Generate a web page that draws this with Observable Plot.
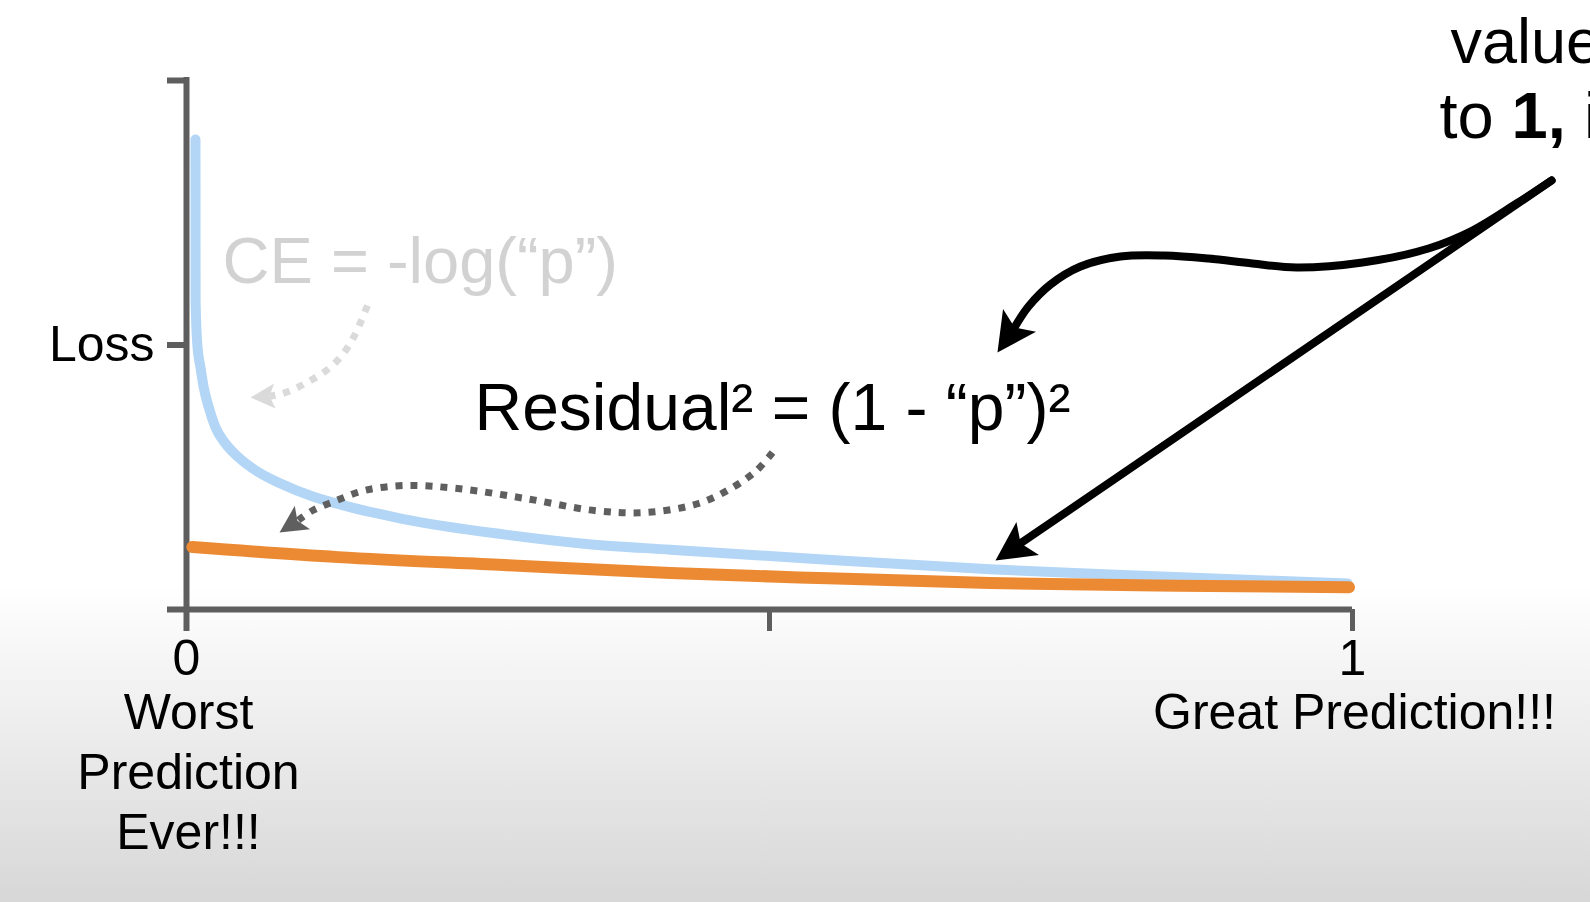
<!DOCTYPE html>
<html>
<head>
<meta charset="utf-8">
<script src="https://cdn.jsdelivr.net/npm/d3@7"></script>
<script src="https://cdn.jsdelivr.net/npm/@observablehq/plot@0.6"></script>
<style>
html, body { margin: 0; padding: 0; width: 1590px; height: 902px; overflow: hidden;
  background: linear-gradient(to bottom, #ffffff 0px, #ffffff 585px, #d7d7d7 902px); }
#chart svg { display: block; }
</style>
</head>
<body>
<div id="chart"></div>
<script>
// ---- data ----
// predicted probability "p" and cross-entropy loss (blue curve)
const pCE    = [0.0077, 0.0078, 0.0092, 0.0120, 0.0148, 0.0191, 0.0249, 0.0334, 0.0449, 0.0606, 0.0806, 0.1089, 0.1378, 0.1635, 0.186, 0.272, 0.343, 0.415, 0.536, 0.689, 0.842, 0.996];
const lossCE = [8.885, 5.84, 5.03, 4.575, 4.197, 3.819, 3.440, 3.138, 2.870, 2.610, 2.380, 2.130, 1.950, 1.815, 1.710, 1.42, 1.24, 1.13, 0.96, 0.76, 0.62, 0.49];
// predicted probability "p" and squared residual loss (orange curve)
const pSq    = [0.005, 0.13, 0.272, 0.415, 0.55, 0.689, 0.85, 0.997];
const lossSq = [1.18, 0.99, 0.84, 0.69, 0.59, 0.50, 0.45, 0.42];

const xTicks = [0, 0.5, 1];
const xTickLabels = ["0", "", "1"];
const yTicks = [5, 10];
const yTickLabels = ["Loss", ""];
const endLabels = ["Worst\nPrediction\nEver!!!", "Great Prediction!!!"];
const endLabelAt = [0, 1];

// ---- annotations (in data units) ----
const ceArrowPath = [[0.1552,5.747],[0.1492,5.425],[0.1432,5.142],[0.1364,4.896],[0.1278,4.669],[0.1175,4.480],[0.1063,4.329],[0.0952,4.197],[0.0823,4.083],[0.0714,4.030]];
const ceArrowHead = {x: 0.0549, y: 4.008, angle: 266.3};
const resArrowPath = [[0.5026,2.968],[0.4889,2.628],[0.4683,2.306],[0.4391,2.004],[0.3945,1.834],[0.3499,1.871],[0.2907,2.098],[0.2324,2.287],[0.1878,2.344],[0.1527,2.250],[0.1286,2.060],[0.1081,1.871],[0.0959,1.686]];
const resArrowHead = {x: 0.0798, y: 1.456, angle: 236.9};
const curvyArrowPath = [[1.1707,8.110],[1.1407,7.675],[1.1029,7.164],[1.0652,6.824],[1.0086,6.560],[0.9520,6.465],[0.9142,6.541],[0.8765,6.635],[0.8388,6.692],[0.8010,6.673],[0.7667,6.484],[0.7410,6.144],[0.7221,5.728],[0.7101,5.331]];
const curvyArrowHead = {x: 0.6955, y: 4.858, angle: 214.5};
const straightArrowPath = [[1.1707,8.110],[0.7129,1.214]];
const straightArrowHead = {x: 0.6938, y: 0.926, angle: 235.7};

const textNotes = [
  {text: "CE = -log(“p”)", x: 0.0309, y: 6.181, size: 65, color: "#d2d2d2", weight: "normal"},
  {text: "Residual² = (1 - “p”)²", x: 0.2470, y: 3.384, size: 66, color: "#000000", weight: "normal"},
  {text: "values", x: 1.084, y: 10.34, size: 63, color: "#000000", weight: "normal"},
  {text: "to ", x: 1.0746, y: 8.904, size: 65, color: "#000000", weight: "normal"},
  {text: "1,", x: 1.1364, y: 8.904, size: 65, color: "#000000", weight: "bold"},
  {text: " it", x: 1.1831, y: 8.904, size: 65, color: "#000000", weight: "normal"}
];

const ceData = pCE.map((p, i) => ({p, loss: lossCE[i]}));
const sqData = pSq.map((p, i) => ({p, loss: lossSq[i]}));

const axisColor = "#5e5e5e";
const fontFamily = '"Liberation Sans", Arial, Helvetica, sans-serif';

// notched arrowhead symbol, tip at origin pointing up
const arrowHead = {
  draw(ctx, size) {
    const r = Math.sqrt(size / Math.PI);
    const L = 1.95 * r, notch = 0.78 * L;
    ctx.moveTo(0, 0);
    ctx.lineTo(r, L);
    ctx.lineTo(0, notch);
    ctx.lineTo(-r, L);
    ctx.closePath();
  }
};

function arrow(path, head, color, width, r, dashed, curve) {
  return [
    Plot.line(path, {x: d => d[0], y: d => d[1], stroke: color, strokeWidth: width,
      curve, strokeDasharray: dashed ? "7,8" : null, strokeLinecap: dashed ? "butt" : "round", strokeLinejoin: "round"}),
    Plot.dot([head], {x: "x", y: "y", rotate: "angle", symbol: arrowHead, r, fill: color, stroke: "none"})
  ];
}

const chart = Plot.plot({
  width: 1590,
  height: 902,
  marginLeft: 186,
  marginRight: 238,
  marginTop: 80,
  marginBottom: 293,
  style: {background: "transparent", fontFamily, overflow: "hidden"},
  x: {domain: [0, 1]},
  y: {domain: [0, 10]},
  marks: [
    // axis lines
    Plot.ruleX([0], {stroke: axisColor, strokeWidth: 6, insetBottom: -22, insetTop: -3}),
    Plot.ruleY([0], {stroke: axisColor, strokeWidth: 6, insetLeft: -19}),
    Plot.axisY(yTicks, {tickSize: 19, tickPadding: 13, fontSize: 50, stroke: axisColor, strokeWidth: 6,
      fill: "#000", tickFormat: d => yTickLabels[yTicks.indexOf(d)], label: null}),
    Plot.axisX(xTicks, {tickSize: 22, tickPadding: 8, fontSize: 50, stroke: axisColor, strokeWidth: 5,
      fill: "#000", tickFormat: d => xTickLabels[xTicks.indexOf(d)], label: null}),
    Plot.text(endLabels, {x: endLabelAt, frameAnchor: "bottom", lineAnchor: "top", dy: 77, dx: 2,
      fontSize: 50, lineHeight: 1.2, fill: "#000", textAnchor: "middle"}),
    // curves
    Plot.line(ceData, {x: "p", y: "loss", stroke: "#b3d6f6", strokeWidth: 10, strokeLinecap: "round", curve: "monotone-x"}),
    Plot.line(sqData, {x: "p", y: "loss", stroke: "#ec8a33", strokeWidth: 12, strokeLinecap: "round", curve: "monotone-x"}),
    // arrows
    ...arrow(ceArrowPath, ceArrowHead, "#dadada", 7, 12.5, true, "catmull-rom"),
    ...arrow(resArrowPath, resArrowHead, "#5f5f5f", 7, 14, true, "catmull-rom"),
    ...arrow(curvyArrowPath, curvyArrowHead, "#000000", 8, 20, false, "catmull-rom"),
    ...arrow(straightArrowPath, straightArrowHead, "#000000", 8, 20, false, "linear"),
    // annotation texts
    ...textNotes.map(n => Plot.text([n], {x: "x", y: "y", text: "text", fontSize: n.size, fill: n.color,
      fontWeight: n.weight, textAnchor: "start", lineAnchor: "bottom"}))
  ]
});
document.getElementById("chart").appendChild(chart);
</script>
</body>
</html>
